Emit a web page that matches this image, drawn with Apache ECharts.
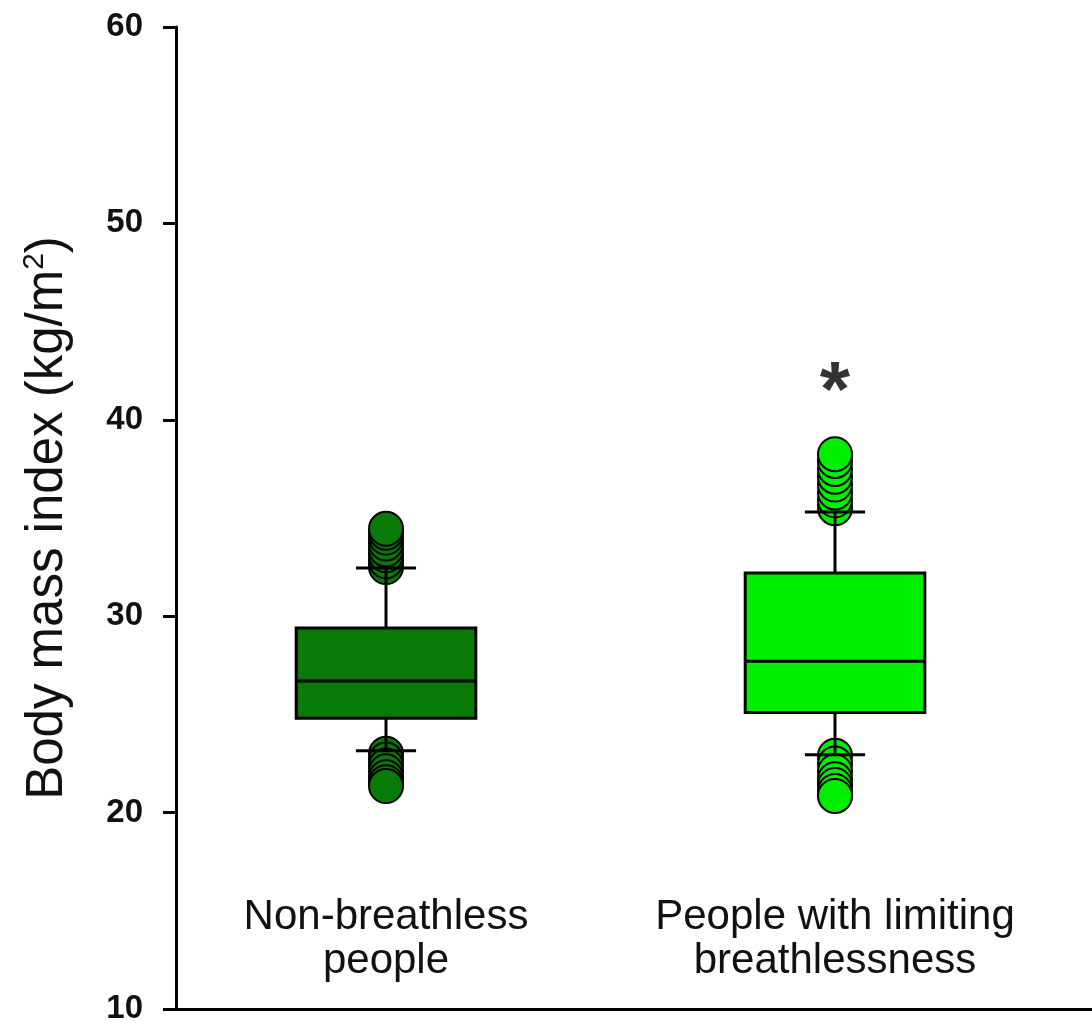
<!DOCTYPE html>
<html>
<head>
<meta charset="utf-8">
<script src="https://cdn.jsdelivr.net/npm/echarts@6/dist/echarts.min.js"></script>
<style>
html,body{margin:0;padding:0;background:#fff;}
#chart{width:1092px;height:1026px;}
</style>
</head>
<body>
<div id="chart"></div>
<script>
// ---- data ----
const categories = ['Non-breathless\npeople', 'People with limiting\nbreathlessness'];
const whiskerLow  = [23.15, 22.95];
const quartile1   = [24.8, 25.1];
const medians     = [26.7, 27.7];
const quartile3   = [29.4, 32.2];
const whiskerHigh = [32.45, 35.3];
const outliersNonBreathless = [32.5, 32.8, 33.1, 33.4, 33.7, 34.0, 34.25, 34.45,
                               23.0, 22.7, 22.4, 22.1, 21.8, 21.55, 21.35];
const outliersBreathless    = [35.5, 35.9, 36.3, 36.7, 37.1, 37.5, 37.9, 38.25,
                               22.9, 22.5, 22.1, 21.7, 21.4, 21.1, 20.85];
const significance = [{ category: 1, value: 41.3, text: '*' }];
const yMin = 10, yMax = 60, yStep = 10;
const boxColors = ['#087a08', '#00ef00'];

// ---- build ----
const boxData = categories.map((c, i) => [i, whiskerLow[i], quartile1[i], medians[i], quartile3[i], whiskerHigh[i]]);
const outlierData = [];
outliersNonBreathless.forEach(v => outlierData.push({ value: [0, v], itemStyle: { color: boxColors[0] } }));
outliersBreathless.forEach(v => outlierData.push({ value: [1, v], itemStyle: { color: boxColors[1] } }));

const FONT = 'Liberation Sans, Arial, sans-serif';
const chart = echarts.init(document.getElementById('chart'), null, { renderer: 'canvas' });
const LW = 3;
chart.setOption({
  animation: false,
  backgroundColor: '#ffffff',
  grid: [
    { left: 176, right: 0, top: 27, bottom: 17, containLabel: false },
    { left: 161.5, width: 898, top: 27, bottom: 17, containLabel: false }
  ],
  xAxis: [
    { gridIndex: 0, type: 'value', min: 0, max: 1,
      axisLine: { show: true, lineStyle: { color: '#000', width: LW } },
      axisTick: { show: false }, axisLabel: { show: false }, splitLine: { show: false } },
    { gridIndex: 1, type: 'category', data: categories,
      axisLine: { show: false }, axisTick: { show: false }, splitLine: { show: false },
      axisLabel: { inside: true, margin: 26, color: '#111', fontFamily: FONT,
                   fontSize: 42, lineHeight: 44, interval: 0 } }
  ],
  yAxis: [
    { gridIndex: 0, type: 'value', min: yMin, max: yMax, interval: yStep,
      name: 'Body mass index (kg/m{sup|2})', nameLocation: 'middle', nameGap: 100, nameRotate: 90,
      nameTextStyle: { fontFamily: FONT, fontSize: 51, color: '#111',
        rich: { sup: { fontFamily: FONT, fontSize: 30, color: '#111', padding: [0, 0, 26, 0] } } },
      axisLine: { show: true, lineStyle: { color: '#000', width: LW } },
      axisTick: { show: true, inside: false, length: 13, lineStyle: { color: '#000', width: LW } },
      axisLabel: { margin: 33, color: '#111', fontFamily: FONT, fontWeight: 'bold', fontSize: 33 },
      splitLine: { show: false } },
    { gridIndex: 1, type: 'value', min: yMin, max: yMax, interval: yStep, show: false, splitLine: { show: false } }
  ],
  series: [
    {
      type: 'scatter', xAxisIndex: 1, yAxisIndex: 1, z: 2,
      symbol: 'circle', symbolSize: 34,
      itemStyle: { borderColor: '#000', borderWidth: 2, opacity: 1 },
      data: outlierData
    },
    {
      type: 'custom', xAxisIndex: 1, yAxisIndex: 1, z: 3,
      data: boxData,
      renderItem: function (params, api) {
        const idx = api.value(0);
        const lo = api.coord([idx, api.value(1)]);
        const q1 = api.coord([idx, api.value(2)]);
        const md = api.coord([idx, api.value(3)]);
        const q3 = api.coord([idx, api.value(4)]);
        const hi = api.coord([idx, api.value(5)]);
        const band = api.size([1, 0])[0];
        const bw = band * 0.4, cw = band * 0.134;
        const x = md[0];
        const ls = { stroke: '#000', lineWidth: LW };
        return {
          type: 'group',
          children: [
            { type: 'line', shape: { x1: x, y1: q3[1], x2: x, y2: hi[1] }, style: ls },
            { type: 'line', shape: { x1: x, y1: q1[1], x2: x, y2: lo[1] }, style: ls },
            { type: 'line', shape: { x1: x - cw / 2, y1: hi[1], x2: x + cw / 2, y2: hi[1] }, style: ls },
            { type: 'line', shape: { x1: x - cw / 2, y1: lo[1], x2: x + cw / 2, y2: lo[1] }, style: ls },
            { type: 'rect', shape: { x: x - bw / 2, y: q3[1], width: bw, height: q1[1] - q3[1] },
              style: { fill: boxColors[idx], stroke: '#000', lineWidth: LW } },
            { type: 'line', shape: { x1: x - bw / 2, y1: md[1], x2: x + bw / 2, y2: md[1] }, style: ls }
          ]
        };
      }
    },
    {
      type: 'scatter', xAxisIndex: 1, yAxisIndex: 1, z: 4, silent: true,
      symbolSize: 1, itemStyle: { color: 'rgba(0,0,0,0)' },
      label: { show: true, position: 'inside', formatter: p => p.data.text,
               fontFamily: FONT, fontWeight: 'bold', fontSize: 78, color: '#000' },
      data: significance.map(s => ({ value: [s.category, s.value], text: s.text }))
    }
  ]
});
</script>
</body>
</html>
